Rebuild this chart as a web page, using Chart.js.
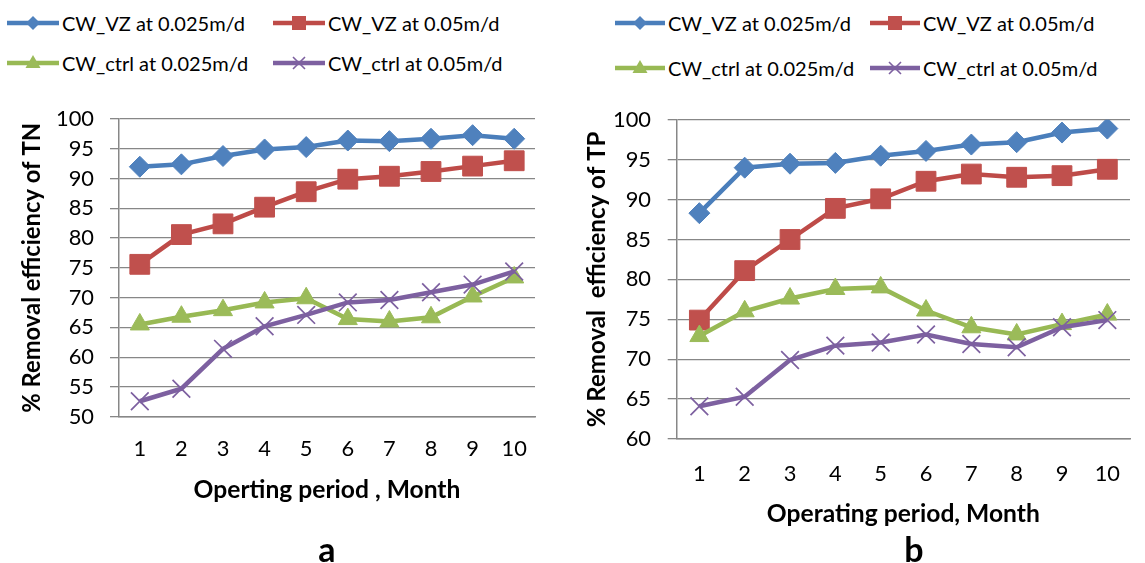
<!DOCTYPE html>
<html><head><meta charset="utf-8">
<script src="https://cdn.jsdelivr.net/npm/chart.js@4.4.1/dist/chart.umd.min.js"></script>
<style>
html,body{margin:0;padding:0;background:#fff;width:1145px;height:563px;overflow:hidden;font-family:Lato,sans-serif;color:#000;}
.wrap{position:absolute;}
.leg{position:absolute;display:flex;align-items:center;white-space:nowrap;color:#000;transform:translateY(-50%);}
.leg svg{display:block;margin-right:3px}
.lab{position:absolute;font-weight:bold;transform:translate(-50%,-50%);line-height:1;}
</style></head><body>
<div class="wrap" style="left:0;top:90px;width:560px;height:440px"><canvas id="cA" width="560" height="440"></canvas></div>
<div class="wrap" style="left:570px;top:90px;width:575px;height:460px"><canvas id="cB" width="575" height="460"></canvas></div>
<div id="legends"></div>
<div class="lab" style="left:327px;top:549px;font-size:34px">a</div>
<div class="lab" style="left:914px;top:549px;font-size:34px">b</div>
<script>
// ---- data ----
const months = ['1','2','3','4','5','6','7','8','9','10'];
const seriesNames = ['CW_VZ at 0.025m/d','CW_VZ at 0.05m/d','CW_ctrl at 0.025m/d','CW_ctrl at 0.05m/d'];
const tnVz025   = [92.0, 92.4, 93.8, 94.9, 95.3, 96.4, 96.3, 96.7, 97.3, 96.7];
const tnVz05    = [75.6, 80.6, 82.4, 85.2, 87.8, 89.9, 90.4, 91.2, 92.1, 93.0];
const tnCtrl025 = [65.5, 66.8, 67.9, 69.2, 69.9, 66.4, 66.0, 66.7, 70.2, 73.4];
const tnCtrl05  = [52.6, 54.7, 61.4, 65.2, 67.1, 69.2, 69.6, 70.9, 72.2, 74.4];
const tpVz025   = [88.3, 94.0, 94.5, 94.6, 95.5, 96.1, 96.9, 97.2, 98.4, 98.9];
const tpVz05    = [74.9, 81.1, 85.0, 88.9, 90.1, 92.3, 93.2, 92.8, 93.0, 93.8];
const tpCtrl025 = [72.9, 76.0, 77.6, 78.8, 79.0, 76.1, 74.0, 73.1, 74.4, 75.6];
const tpCtrl05  = [64.1, 65.3, 69.9, 71.7, 72.1, 73.1, 71.9, 71.5, 74.0, 74.9];
const yTitleA = '% Removal efficiency of TN';
const yTitleB = '% Removal  efficiency of TP';
const xTitleA = 'Operting period , Month';
const xTitleB = 'Operating period, Month';

// ---- styles ----
const lineColors = ['#4A7EBB','#BE4B48','#98B954','#7D60A0'];
const fillColors = ['#4F81BD','#C0504D','#9BBB59','#8064A2'];
const pStyles = ['rectRot','rect','triangle','crossRot'];
const pRadius = [10.5, 14, 11, 12.5];
const gridCol = '#878787';
const FAM = 'Lato';

function fitSize(text, weight, target){
  const c = document.createElement('canvas').getContext('2d');
  c.font = weight + ' 100px ' + FAM;
  return 100 * target / c.measureText(text).width;
}

function makeDatasets(arrs){
  return arrs.map((d,i)=>({
    label: seriesNames[i], data: d,
    borderColor: lineColors[i], backgroundColor: fillColors[i],
    borderWidth: 4.5, tension: 0,
    pointStyle: pStyles[i], pointRadius: pRadius[i], pointHoverRadius: pRadius[i],
    pointBackgroundColor: fillColors[i], pointBorderColor: i===3 ? lineColors[i] : fillColors[i],
    pointBorderWidth: i===3 ? 1.7 : 1,
    order: 4 - i
  }));
}

function makeChart(id, cfg, tickSize){
  const W = cfg.W, H = cfg.H;
  const ySz = fitSize(cfg.yTitle,'bold',cfg.yTitleLen);
  const xSz = fitSize(cfg.xTitle,'bold',cfg.xTitleLen);
  const tickLH = tickSize*1.2;
  return new Chart(document.getElementById(id), {
    type: 'line',
    data: { labels: months, datasets: makeDatasets(cfg.data) },
    options: {
      responsive: false, animation: false, devicePixelRatio: 1,
      layout: { padding: { left: 0, top: cfg.top, right: W - cfg.right, bottom: 0 } },
      plugins: { legend: { display: false }, tooltip: { enabled: false } },
      scales: {
        x: {
          type: 'category', offset: true,
          grid: { display: false, drawTicks: false },
          border: { display: true, color: gridCol, width: 1.5 },
          ticks: { color: '#000', font: { family: FAM, size: tickSize }, padding: cfg.xTickY - cfg.bottom - tickLH/2, maxRotation: 0, autoSkip: false },
          title: { display: true, text: cfg.xTitle, color: '#000', font: { family: FAM, size: xSz, weight: 'bold' },
                   padding: { top: 0, bottom: H - cfg.xTitleY - xSz*1.2/2 } },
          afterFit: s => { s.height = H - cfg.bottom; }
        },
        y: {
          min: cfg.min, max: 100,
          grid: { color: gridCol, lineWidth: 1.3, drawTicks: true, tickLength: 9, tickColor: gridCol },
          border: { display: true, color: gridCol, width: 1.5 },
          ticks: { stepSize: 5, autoSkip: false, color: '#000', font: { family: FAM, size: tickSize }, padding: cfg.left - 9 - cfg.yLabRight },
          title: { display: true, text: cfg.yTitle, color: '#000', font: { family: FAM, size: ySz, weight: 'bold' },
                   padding: { top: cfg.yTitleX - ySz*1.2/2, bottom: 0 } },
          afterFit: s => { s.width = cfg.left; }
        }
      }
    }
  });
}

// ---- HTML legends ----
function marker(i, cx, cy){
  const c = fillColors[i];
  if (i===0) return `<polygon points="${cx},${cy-7} ${cx+7},${cy} ${cx},${cy+7} ${cx-7},${cy}" fill="${c}"/>`;
  if (i===1) return `<rect x="${cx-7}" y="${cy-7}" width="14" height="14" fill="${c}"/>`;
  if (i===2) return `<polygon points="${cx},${cy-8} ${cx+7.5},${cy+5} ${cx-7.5},${cy+5}" fill="${c}"/>`;
  return `<path d="M${cx-6},${cy-6} L${cx+6},${cy+6} M${cx+6},${cy-6} L${cx-6},${cy+6}" stroke="${lineColors[3]}" stroke-width="1.6"/>`;
}
function legendItem(i, x, y, len, legSize){
  const d = document.createElement('div');
  d.className = 'leg';
  d.style.left = x + 'px'; d.style.top = y + 'px'; d.style.fontSize = legSize + 'px';
  d.innerHTML = `<svg width="${len}" height="20"><line x1="0" y1="10" x2="${len}" y2="10" stroke="${lineColors[i]}" stroke-width="4.5" stroke-linecap="round"/>${marker(i, len/2, 10)}</svg><span>${seriesNames[i]}</span>`;
  document.getElementById('legends').appendChild(d);
}

function init(){
  const tickSize = fitSize('100','normal',38);
  const legSize = fitSize('CW_VZ at 0.025m/d','normal',183);
  makeChart('cA', { W:560, H:440, left:119, right:535, top:20.7, bottom:326.7, min:50,
    data:[tnVz025, tnVz05, tnCtrl025, tnCtrl05],
    yTitle:yTitleA, yTitleLen:290, yTitleX:32, yLabRight:94,
    xTitle:xTitleA, xTitleLen:267, xTitleY:400, xTickY:359 }, tickSize);
  makeChart('cB', { W:575, H:460, left:106.7, right:570, top:20, bottom:349, min:60,
    data:[tpVz025, tpVz05, tpCtrl025, tpCtrl05],
    yTitle:yTitleB, yTitleLen:296, yTitleX:27, yLabRight:81,
    xTitle:xTitleB, xTitleLen:273, xTitleY:424, xTickY:384 }, tickSize);
  legendItem(0, 7, 23, 52, legSize); legendItem(1, 273, 23, 52, legSize);
  legendItem(2, 7, 63, 52, legSize); legendItem(3, 273, 63, 52, legSize);
  legendItem(0, 615, 23, 50, legSize); legendItem(1, 870, 23, 50, legSize);
  legendItem(2, 615, 68, 50, legSize); legendItem(3, 870, 68, 50, legSize);
}
Promise.all([
  document.fonts.load('100px Lato'),
  document.fonts.load('bold 100px Lato')
]).then(init, init);
</script>
</body></html>
